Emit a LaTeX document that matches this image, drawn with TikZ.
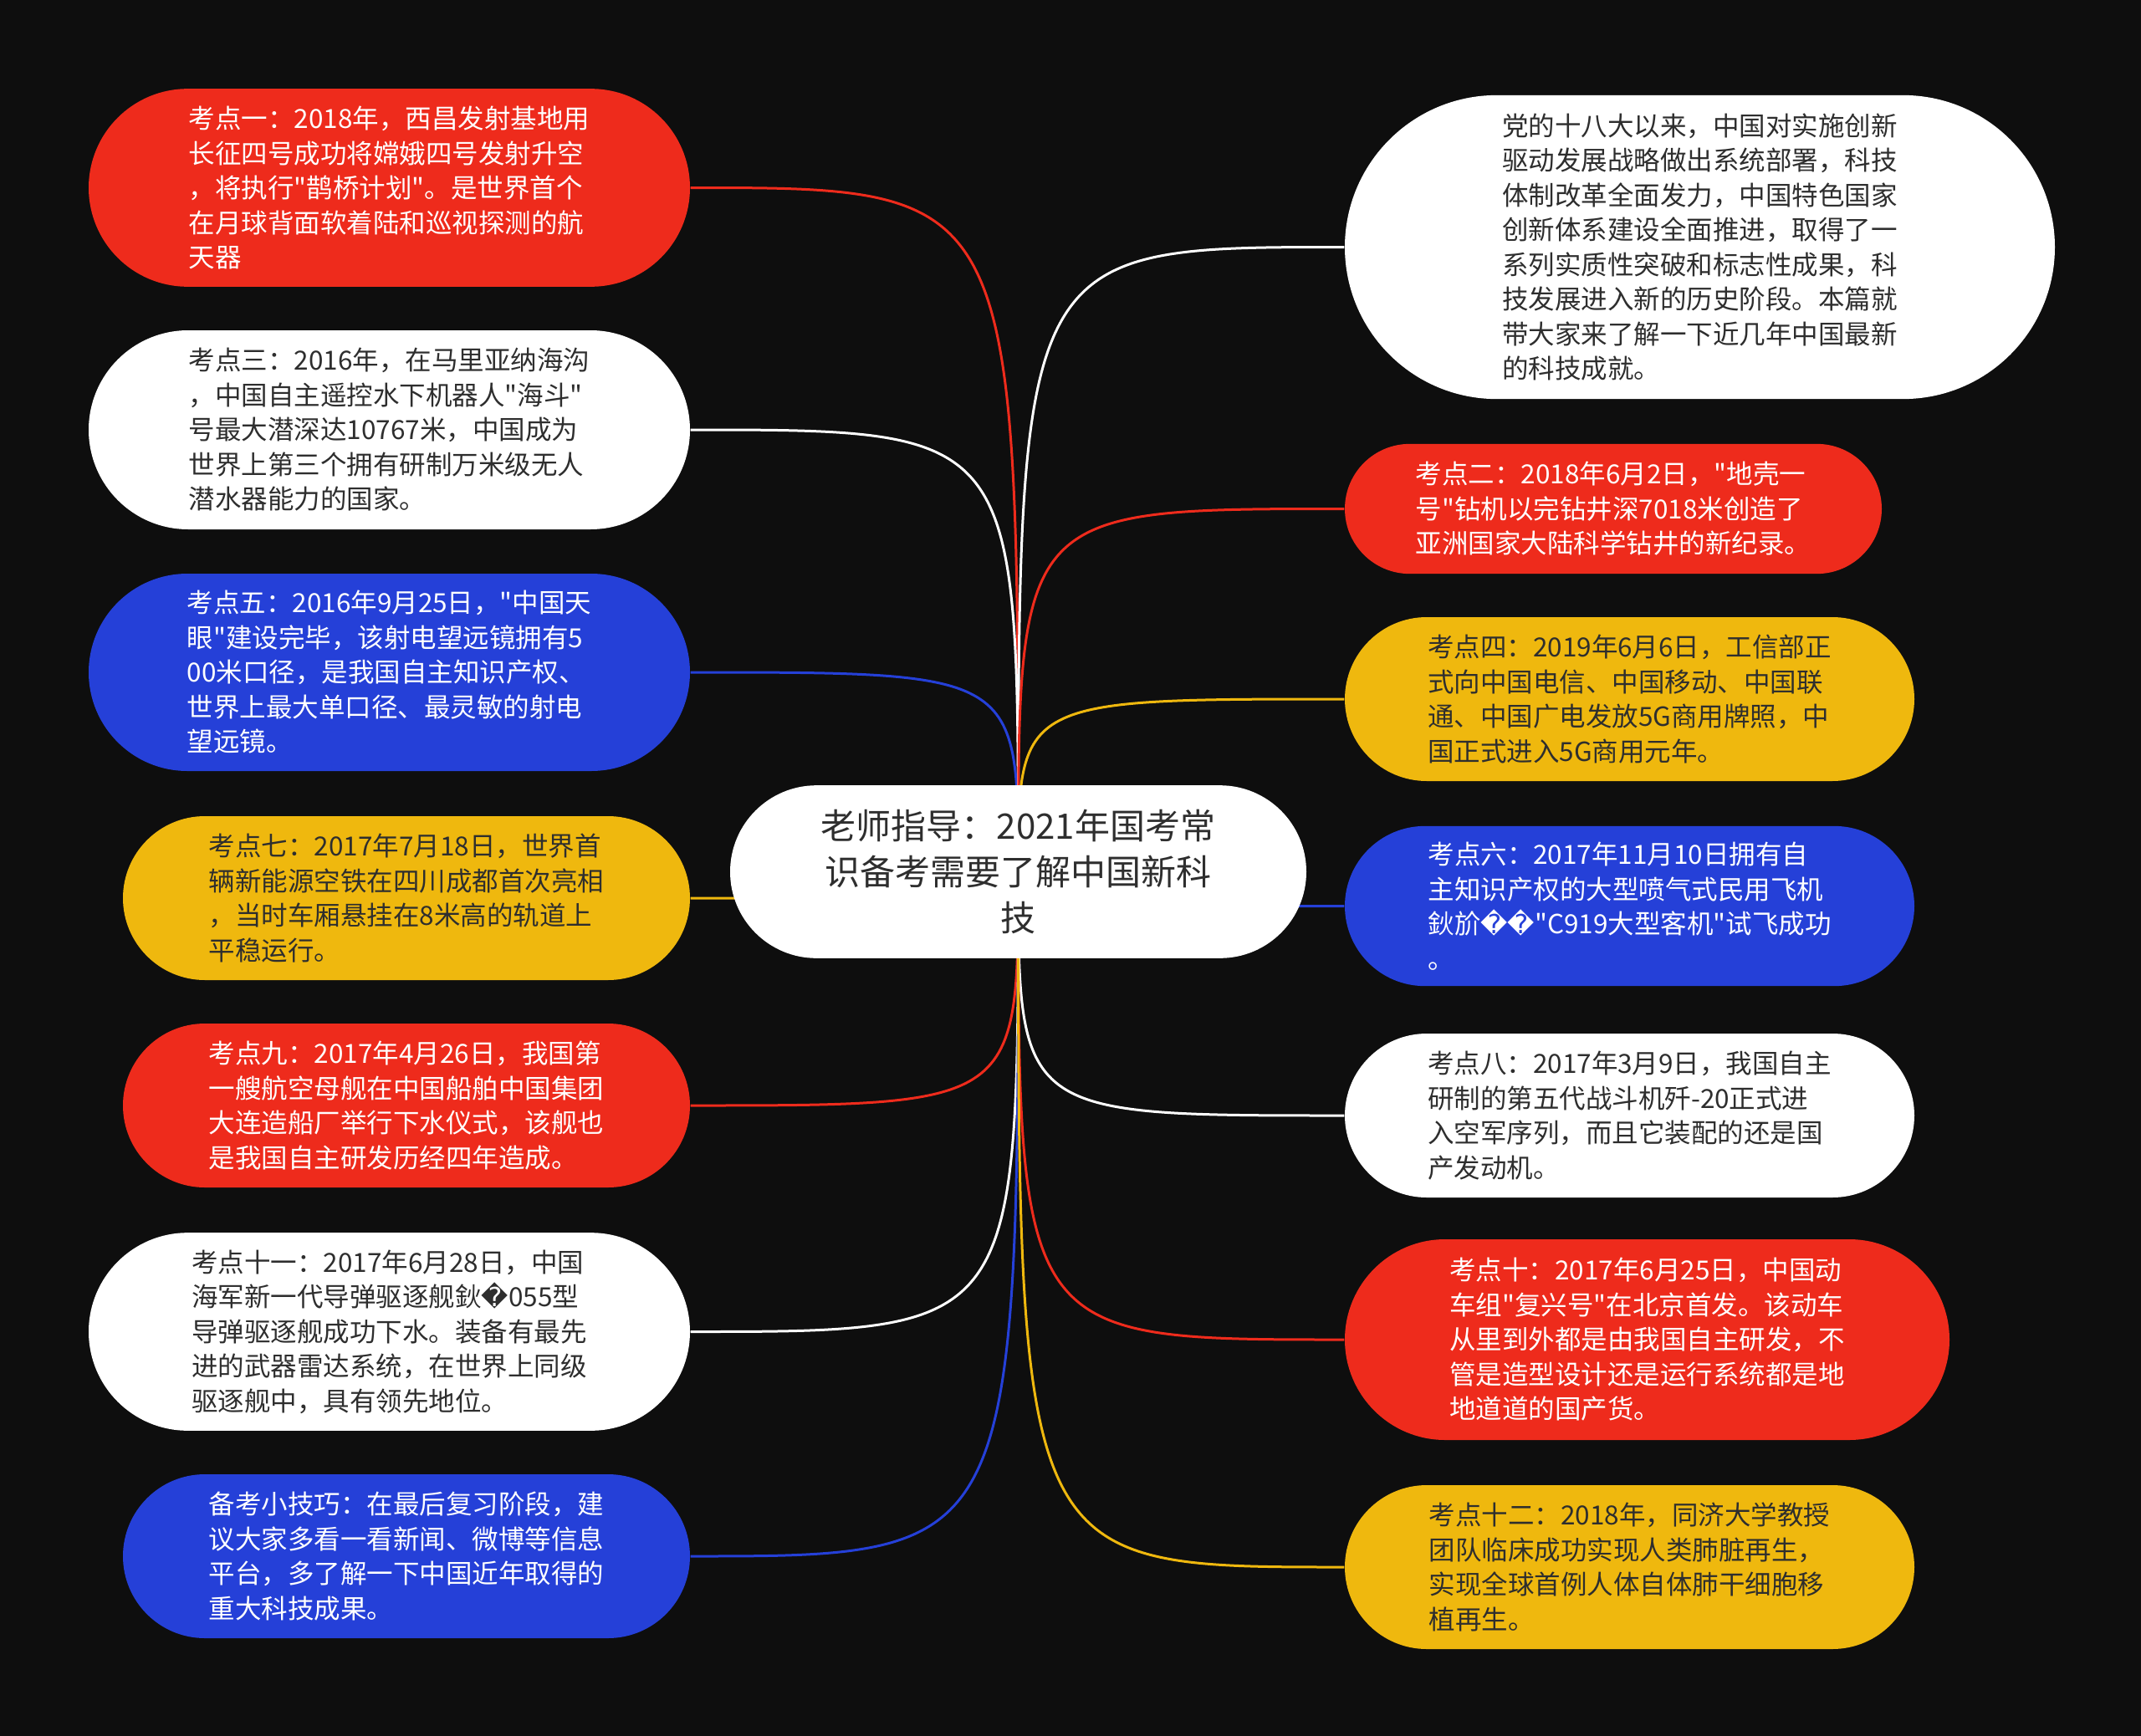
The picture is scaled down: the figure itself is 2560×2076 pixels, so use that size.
\documentclass[tikz,border=0pt]{standalone}
\usepackage{fontspec}
\setmainfont{Noto Sans CJK SC}[Ligatures=TeXOff]
\newfontfamily\djv{DejaVu Sans}
\newcommand\kfont{\fontsize{9.45pt}{12.45pt}\selectfont}
\newcommand\cfont{\fontsize{12.6pt}{16.5pt}\selectfont}
\definecolor{bgblack}{HTML}{0E0E0E}
\definecolor{kred}{HTML}{EE2B1C}
\definecolor{kblue}{HTML}{2540D8}
\definecolor{kyellow}{HTML}{EFB80E}
\definecolor{kdark}{HTML}{2E2E2E}
\pgfdeclarelayer{back}\pgfdeclarelayer{edges}
\pgfsetlayers{back,edges,main}
\begin{document}
\begin{tikzpicture}[x=0.3pt, y=-0.3pt,
  kdbox/.style={rounded corners=#1, minimum height=2*#1, inner sep=0pt, align=left, font=\kfont},
  link/.style={line width=0.9pt}]
\begin{pgfonlayer}{back}\fill[bgblack] (0,0) rectangle (2560,2076);\end{pgfonlayer}
% centre topic
\node[kdbox=31pt, fill=white, text=kdark, minimum width=206.7pt, align=center, font=\cfont] (c) at (1217.5,1042.5) {老师指导：2021年国考常\\识备考需要了解中国新科\\技};
% left column
\node[kdbox=35.5pt, fill=kred, text=white, minimum width=215.7pt] (l1) at (465.5,224.5) {考点一：2018年，西昌发射基地用\\长征四号成功将嫦娥四号发射升空\\，将执行"鹊桥计划"。是世界首个\\在月球背面软着陆和巡视探测的航\\天器};
\node[kdbox=35.7pt, fill=white, text=kdark, minimum width=215.7pt] (l2) at (465.5,514) {考点三：2016年，在马里亚纳海沟\\，中国自主遥控水下机器人"海斗"\\号最大潜深达10767米，中国成为\\世界上第三个拥有研制万米级无人\\潜水器能力的国家。};
\node[kdbox=35.4pt, fill=kblue, text=white, minimum width=215.7pt] (l3) at (465.5,804) {考点五：2016年9月25日，"中国天\\眼"建设完毕，该射电望远镜拥有5\\00米口径，是我国自主知识产权、\\世界上最大单口径、最灵敏的射电\\望远镜。};
\node[kdbox=29.4pt, fill=kyellow, text=kdark, minimum width=203.4pt] (l4) at (486,1074) {考点七：2017年7月18日，世界首\\辆新能源空铁在四川成都首次亮相\\，当时车厢悬挂在8米高的轨道上\\平稳运行。};
\node[kdbox=29.4pt, fill=kred, text=white, minimum width=203.4pt] (l5) at (486,1322) {考点九：2017年4月26日，我国第\\一艘航空母舰在中国船舶中国集团\\大连造船厂举行下水仪式，该舰也\\是我国自主研发历经四年造成。};
\node[kdbox=35.5pt, fill=white, text=kdark, minimum width=215.7pt] (l6) at (465.5,1592.5) {考点十一：2017年6月28日，中国\\海军新一代导弹驱逐舰鈥{\djv �}055型\\导弹驱逐舰成功下水。装备有最先\\进的武器雷达系统，在世界上同级\\驱逐舰中，具有领先地位。};
\node[kdbox=29.4pt, fill=kblue, text=white, minimum width=203.4pt] (l7) at (486,1861) {备考小技巧：在最后复习阶段，建\\议大家多看一看新闻、微博等信息\\平台，多了解一下中国近年取得的\\重大科技成果。};
% right column
\node[kdbox=54.5pt, fill=white, text=kdark, minimum width=254.7pt] (r1) at (2032.5,295.5) {党的十八大以来，中国对实施创新\\驱动发展战略做出系统部署，科技\\体制改革全面发力，中国特色国家\\创新体系建设全面推进，取得了一\\系列实质性突破和标志性成果，科\\技发展进入新的历史阶段。本篇就\\带大家来了解一下近几年中国最新\\的科技成就。};
\node[kdbox=23.3pt, fill=kred, text=white, minimum width=192.6pt] (r2) at (1929,608.5) {考点二：2018年6月2日，"地壳一\\号"钻机以完钻井深7018米创造了\\亚洲国家大陆科学钻井的新纪录。};
\node[kdbox=29.4pt, fill=kyellow, text=kdark, minimum width=204.3pt] (r3) at (1948.5,836) {考点四：2019年6月6日，工信部正\\式向中国电信、中国移动、中国联\\通、中国广电发放5G商用牌照，中\\国正式进入5G商用元年。};
\node[kdbox=28.7pt, fill=kblue, text=white, minimum width=204.3pt] (r4) at (1948.5,1083.5) {考点六：2017年11月10日拥有自\\主知识产权的大型喷气式民用飞机\\鈥斺{\djv ��}"C919大型客机"试飞成功\\。};
\node[kdbox=29.4pt, fill=white, text=kdark, minimum width=204.3pt] (r5) at (1948.5,1334) {考点八：2017年3月9日，我国自主\\研制的第五代战斗机歼-20正式进\\入空军序列，而且它装配的还是国\\产发动机。};
\node[kdbox=36pt, fill=kred, text=white, minimum width=216.9pt] (r6) at (1969.5,1602) {考点十：2017年6月25日，中国动\\车组"复兴号"在北京首发。该动车\\从里到外都是由我国自主研发，不\\管是造型设计还是运行系统都是地\\地道道的国产货。};
\node[kdbox=29.4pt, fill=kyellow, text=kdark, minimum width=204.3pt] (r7) at (1948.5,1874) {考点十二：2018年，同济大学教授\\团队临床成功实现人类肺脏再生，\\实现全球首例人体自体肺干细胞移\\植再生。};
% branches, behind the boxes
\begin{pgfonlayer}{edges}
\draw[link,kred] (c.center) .. controls (c.center |- l1.east) .. (l1.east);
\draw[link,white] (c.center) .. controls (c.center |- l2.east) .. (l2.east);
\draw[link,kblue] (c.center) .. controls (c.center |- l3.east) .. (l3.east);
\draw[link,kyellow] (c.center) .. controls (c.center |- l4.east) .. (l4.east);
\draw[link,kred] (c.center) .. controls (c.center |- l5.east) .. (l5.east);
\draw[link,white] (c.center) .. controls (c.center |- l6.east) .. (l6.east);
\draw[link,kblue] (c.center) .. controls (c.center |- l7.east) .. (l7.east);
\draw[link,white] (c.center) .. controls (c.center |- r1.west) .. (r1.west);
\draw[link,kred] (c.center) .. controls (c.center |- r2.west) .. (r2.west);
\draw[link,kyellow] (c.center) .. controls (c.center |- r3.west) .. (r3.west);
\draw[link,kblue] (c.center) .. controls (c.center |- r4.west) .. (r4.west);
\draw[link,white] (c.center) .. controls (c.center |- r5.west) .. (r5.west);
\draw[link,kred] (c.center) .. controls (c.center |- r6.west) .. (r6.west);
\draw[link,kyellow] (c.center) .. controls (c.center |- r7.west) .. (r7.west);
\end{pgfonlayer}
\end{tikzpicture}
\end{document}
